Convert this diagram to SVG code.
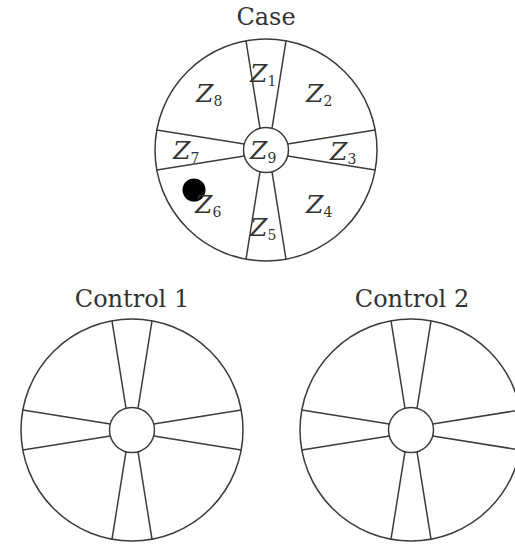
<svg xmlns="http://www.w3.org/2000/svg" xmlns:xlink="http://www.w3.org/1999/xlink" width="515" height="545" viewBox="0 0 515 545">
<style>
.ln{stroke:#3c3c3c;stroke-width:1.5;fill:none}
.ttl{font-family:"DejaVu Serif","Liberation Serif",serif;font-size:24px;fill:#333;text-anchor:middle}
.z{font-family:"DejaVu Serif","Liberation Serif",serif;font-style:italic;font-size:25px;fill:#333}
.s{font-style:normal;font-size:14px}
</style>
<defs>
<g id="wheel" class="ln">
<circle cx="0" cy="0" r="111"/>
<circle cx="0" cy="0" r="22.5"/>
<line x1="-6" y1="-21.7" x2="-20" y2="-109.2"/>
<line x1="6" y1="-21.7" x2="20" y2="-109.2"/>
<line x1="-6" y1="21.7" x2="-20" y2="109.2"/>
<line x1="6" y1="21.7" x2="20" y2="109.2"/>
<line x1="-21.7" y1="-6" x2="-109.2" y2="-20"/>
<line x1="-21.7" y1="6" x2="-109.2" y2="20"/>
<line x1="21.7" y1="-6" x2="109.2" y2="-20"/>
<line x1="21.7" y1="6" x2="109.2" y2="20"/>
</g>
</defs>
<rect width="515" height="545" fill="#fff"/>
<g id="case">
<text class="ttl" x="266" y="25">Case</text>
<use href="#wheel" x="266" y="150"/>
<circle cx="194" cy="190" r="11.5" fill="#000"/>
<text class="z" x="250" y="82">Z<tspan class="s" dy="4">1</tspan></text>
<text class="z" x="196" y="102">Z<tspan class="s" dy="4">8</tspan></text>
<text class="z" x="306" y="102">Z<tspan class="s" dy="4">2</tspan></text>
<text class="z" x="173" y="159">Z<tspan class="s" dy="4">7</tspan></text>
<text class="z" x="250" y="159">Z<tspan class="s" dy="4">9</tspan></text>
<text class="z" x="330" y="160">Z<tspan class="s" dy="4">3</tspan></text>
<text class="z" x="195" y="213">Z<tspan class="s" dy="4">6</tspan></text>
<text class="z" x="250" y="236">Z<tspan class="s" dy="4">5</tspan></text>
<text class="z" x="306" y="213">Z<tspan class="s" dy="4">4</tspan></text>
</g>
<g id="control1">
<text class="ttl" x="132" y="307">Control 1</text>
<use href="#wheel" x="132" y="430"/>
</g>
<g id="control2">
<text class="ttl" x="412" y="307">Control 2</text>
<use href="#wheel" x="411" y="430"/>
</g>
</svg>
